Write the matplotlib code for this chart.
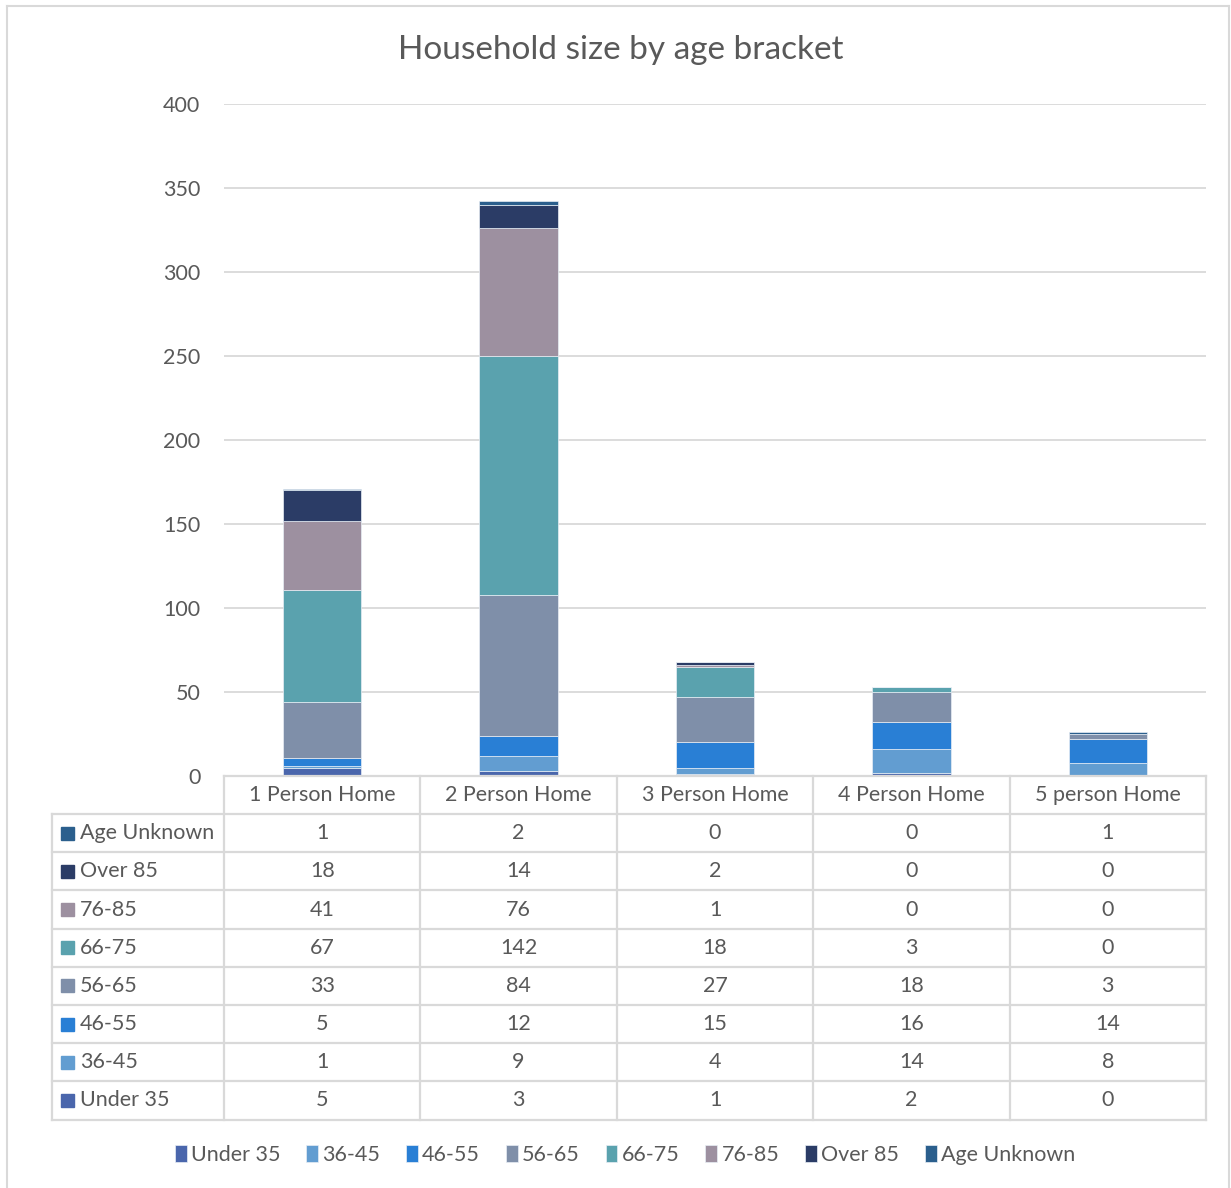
import matplotlib
matplotlib.use("Agg")
import matplotlib.pyplot as plt
from matplotlib.lines import Line2D
from matplotlib.patches import Rectangle
import numpy as np

# ---------------- data ----------------
categories = ['1 Person Home', '2 Person Home', '3 Person Home', '4 Person Home', '5 person Home']
series_names = ['Under 35', '36-45', '46-55', '56-65', '66-75', '76-85', 'Over 85', 'Age Unknown']
under35 = [5, 3, 1, 2, 0]
age36_45 = [1, 9, 4, 14, 8]
age46_55 = [5, 12, 15, 16, 14]
age56_65 = [33, 84, 27, 18, 3]
age66_75 = [67, 142, 18, 3, 0]
age76_85 = [41, 76, 1, 0, 0]
over85 = [18, 14, 2, 0, 0]
unknown = [1, 2, 0, 0, 1]
series_values = [under35, age36_45, age46_55, age56_65, age66_75, age76_85, over85, unknown]
colors = ['#4A66AC', '#629DD1', '#297FD5', '#7F8FA9', '#5AA2AE', '#9D90A0', '#2B3C66', '#2B5F8D']
y_ticks = [0, 50, 100, 150, 200, 250, 300, 350, 400]
title = 'Household size by age bracket'

# ---------------- layout helpers ----------------
W, H = 1231, 1188
plt.rcParams['font.family'] = ['Lato', 'DejaVu Sans']
TXT = '#595959'
GRID = '#D9D9D9'

fig = plt.figure(figsize=(W / 100, H / 100), dpi=100)

def fx(x):
    return x / W

def fy(y):
    return 1 - y / H

# plot area
x0, x1, ytop, ybot = 224, 1206, 104, 776
ax = fig.add_axes([fx(x0), fy(ybot), fx(x1) - fx(x0), fy(ytop) - fy(ybot)])
ax.set_xlim(-0.5, len(categories) - 0.5)
ax.set_ylim(0, 400)
ax.set_yticks(y_ticks)
ax.set_yticklabels([str(t) for t in y_ticks])
ax.tick_params(axis='y', length=0, pad=17, labelsize=15.5, labelcolor=TXT)
ax.set_xticks([])
for s in ax.spines.values():
    s.set_visible(False)
ax.yaxis.grid(True, color=GRID, linewidth=1.3)
ax.set_axisbelow(True)

x = np.arange(len(categories))
bottom = np.zeros(len(categories))
for name, vals, col in zip(series_names, series_values, colors):
    ax.bar(x, vals, width=0.4, bottom=bottom, color=col, edgecolor='#E8EEF5',
           linewidth=0.5, label=name, zorder=3)
    bottom += np.array(vals)

# ---------------- data table ----------------
row_h = 38.2
col_edges = [224 + i * (x1 - x0) / len(categories) for i in range(len(categories) + 1)]
tab_left = 52
n_rows = len(series_names)
y_header_top = 776
y_rows_top = 814
y_bottom = y_rows_top + n_rows * row_h

def hline(xa, xb, y):
    fig.add_artist(Line2D([fx(xa), fx(xb)], [fy(y), fy(y)], color=GRID, lw=1.6,
                          transform=fig.transFigure))

def vline(x_, ya, yb):
    fig.add_artist(Line2D([fx(x_), fx(x_)], [fy(ya), fy(yb)], color=GRID, lw=1.6,
                          transform=fig.transFigure))

hline(x0, x1, y_header_top)
for r in range(n_rows + 1):
    hline(tab_left, x1, y_rows_top + r * row_h)
vline(tab_left, y_rows_top, y_bottom)
for ce in col_edges:
    vline(ce, y_header_top, y_bottom)

fs_tab = 15.5
for i, cat in enumerate(categories):
    cx = (col_edges[i] + col_edges[i + 1]) / 2
    fig.text(fx(cx), fy(y_header_top + row_h / 2), cat, ha='center', va='center',
             fontsize=fs_tab, color=TXT)

rows_order = list(range(n_rows))[::-1]
for r, si in enumerate(rows_order):
    yc = y_rows_top + r * row_h + row_h / 2
    fig.add_artist(Rectangle((fx(61), fy(yc + 6.5)), fx(13), 13 / H, color=colors[si],
                             transform=fig.transFigure))
    fig.text(fx(80), fy(yc), series_names[si], ha='left', va='center',
             fontsize=fs_tab, color=TXT)
    for i in range(len(categories)):
        cx = (col_edges[i] + col_edges[i + 1]) / 2
        fig.text(fx(cx), fy(yc), str(series_values[si][i]), ha='center', va='center',
                 fontsize=fs_tab, color=TXT)

# ---------------- title, legend, border ----------------
fig.text(fx(621), fy(50), title, ha='center', va='center', fontsize=24, color=TXT)

handles, labels = ax.get_legend_handles_labels()
leg = fig.legend(handles, labels, loc='center', bbox_to_anchor=(fx(625), fy(1155)),
                 ncol=8, frameon=False, fontsize=15.5, handlelength=0.55, handleheight=0.8,
                 handletextpad=0.2, columnspacing=1.2, borderaxespad=0)
for t in leg.get_texts():
    t.set_color(TXT)

fig.add_artist(Line2D([fx(7), fx(7)], [fy(6), 0], color=GRID, lw=1.5, transform=fig.transFigure))
fig.add_artist(Line2D([fx(7), fx(1229)], [fy(6), fy(6)], color=GRID, lw=1.5, transform=fig.transFigure))
fig.add_artist(Line2D([fx(1229), fx(1229)], [fy(6), 0], color=GRID, lw=1.5, transform=fig.transFigure))

fig.savefig('out.png', dpi=100, facecolor='white')
